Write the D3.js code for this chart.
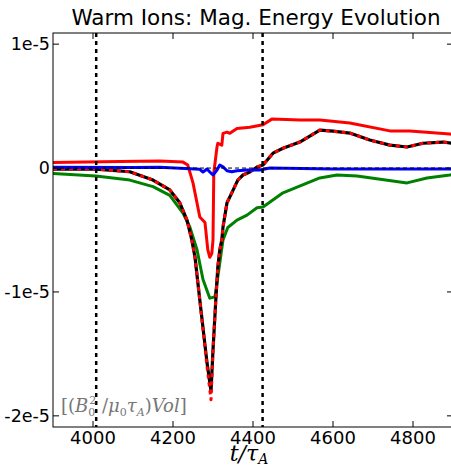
<!DOCTYPE html>
<html>
<head>
<meta charset="utf-8">
<script src="https://cdn.jsdelivr.net/npm/d3@7"></script>
<style>
body{margin:0;background:#fff;}
svg text{font-family:'DejaVu Sans',sans-serif;fill:#000;}
</style>
</head>
<body>
<div id="chart"></div>
<script>
// values are in units of 1e-5
var x_ticks=[4000,4200,4400,4600,4800];
var y_ticks=[1,0,-1,-2];
var y_tick_labels=['1e-5','0','-1e-5','-2e-5'];
var marker_times=[4008,4424];

var red_t=[3900,4067,4167,4225,4237,4250,4267,4280,4287,4292,4297,4300,4302,4310,4312,4322,4325,4335,4342,4360,4392,4425,4447,4517,4567,4642,4742,4792,4892,4900];
var red_v=[0.044,0.052,0.056,0.048,0.024,-0.12,-0.395,-0.44,-0.66,-0.72,-0.69,-0.58,-0.04,0.17,0.2,0.185,0.28,0.29,0.28,0.32,0.33,0.35,0.395,0.387,0.387,0.363,0.3,0.3,0.274,0.27];

var total_t=[3900,4007,4092,4150,4192,4217,4235,4247,4255,4267,4285,4295,4300,4307,4312,4317,4322,4325,4335,4347,4362,4375,4392,4410,4425,4450,4475,4517,4567,4600,4642,4692,4742,4785,4825,4875,4900];
var total_v=[-0.008,-0.008,-0.03,-0.097,-0.177,-0.28,-0.42,-0.58,-0.72,-1.065,-1.57,-1.8,-1.47,-1.065,-0.8,-0.66,-0.58,-0.476,-0.28,-0.2,-0.097,-0.056,-0.032,0.008,0.024,0.12,0.16,0.21,0.306,0.298,0.282,0.226,0.185,0.17,0.2,0.21,0.2];
var sum_v=[-0.008,-0.008,-0.03,-0.097,-0.177,-0.28,-0.42,-0.58,-0.72,-1.065,-1.6,-1.87,-1.47,-1.065,-0.8,-0.66,-0.58,-0.476,-0.28,-0.2,-0.097,-0.056,-0.032,0.008,0.024,0.12,0.16,0.21,0.306,0.298,0.282,0.226,0.185,0.17,0.2,0.21,0.2];

var green_t=[3900,4007,4092,4150,4192,4225,4242,4260,4275,4292,4305,4312,4325,4337,4360,4385,4410,4425,4475,4567,4610,4660,4785,4835,4892,4900];
var green_v=[-0.043,-0.065,-0.097,-0.15,-0.22,-0.363,-0.476,-0.66,-0.9,-1.05,-1.04,-0.88,-0.58,-0.48,-0.42,-0.38,-0.32,-0.315,-0.2,-0.08,-0.056,-0.065,-0.12,-0.08,-0.056,-0.05];

var blue_t=[3900,4100,4167,4267,4275,4285,4292,4300,4310,4317,4325,4335,4347,4360,4385,4417,4442,4600,4900];
var blue_v=[0.006,0.004,0.006,-0.01,-0.032,-0.008,-0.032,-0.056,-0.016,0.024,0.01,-0.022,-0.03,-0.022,-0.016,-0.016,0,-0.008,-0.008];

var W=451,H=468;
var margin={left:53,top:33,right:-2,bottom:41};
var pw=W-margin.left-margin.right, ph=H-margin.top-margin.bottom;

var svg=d3.select('#chart').append('svg').attr('width',W).attr('height',H);
svg.append('defs').append('clipPath').attr('id','clip').append('rect').attr('width',pw).attr('height',ph);
var g=svg.append('g').attr('transform','translate('+margin.left+','+margin.top+')');

var x=d3.scaleLinear().domain([3900,4900]).range([0,pw]);
var y=d3.scaleLinear().domain([-2.09,1.09]).range([ph,0]);

var plot=g.append('g').attr('clip-path','url(#clip)');
function zip(t,v){return t.map(function(d,i){return [d,v[i]];});}
var line=d3.line().x(function(d){return x(d[0]);}).y(function(d){return y(d[1]);});

function draw(t,v,color,dash,width){
    var p=plot.append('path').datum(zip(t,v)).attr('d',line).attr('fill','none')
        .attr('stroke',color).attr('stroke-width',width).attr('stroke-linejoin','round');
    if(dash) p.attr('stroke-dasharray',dash);
    return p;
}
draw(red_t,red_v,'#ff0000',null,3);
draw(green_t,green_v,'#008000',null,3);
draw(total_t,total_v,'#000000',null,3.2);
draw(total_t,sum_v,'#ff0000','4,4',3);
draw(blue_t,blue_v,'#0000ff',null,3);
// zero reference
plot.append('line').attr('x1',0).attr('x2',pw).attr('y1',y(0)).attr('y2',y(0))
    .attr('stroke','#000').attr('stroke-width',1).attr('stroke-dasharray','4,3');
marker_times.forEach(function(t){
    plot.append('line').attr('x1',x(t)).attr('x2',x(t)).attr('y1',0).attr('y2',ph)
        .attr('stroke','#000').attr('stroke-width',2.5).attr('stroke-dasharray','4,4');
});

// frame and inward ticks
g.append('rect').attr('width',pw).attr('height',ph).attr('fill','none').attr('stroke','#000').attr('stroke-width',1);
x_ticks.forEach(function(t){
    g.append('line').attr('x1',x(t)).attr('x2',x(t)).attr('y1',ph).attr('y2',ph-6).attr('stroke','#000');
    g.append('line').attr('x1',x(t)).attr('x2',x(t)).attr('y1',0).attr('y2',6).attr('stroke','#000');
    g.append('text').attr('x',x(t)).attr('y',ph+17).attr('text-anchor','middle').attr('font-size',18).text(t);
});
y_ticks.forEach(function(v,i){
    g.append('line').attr('x1',0).attr('x2',6).attr('y1',y(v)).attr('y2',y(v)).attr('stroke','#000');
    g.append('line').attr('x1',pw).attr('x2',pw-6).attr('y1',y(v)).attr('y2',y(v)).attr('stroke','#000');
    g.append('text').attr('x',-3).attr('y',y(v)).attr('dy','0.36em').attr('text-anchor','end').attr('font-size',17.5).text(y_tick_labels[i]);
});

svg.append('text').attr('x',256).attr('y',25).attr('text-anchor','middle').attr('font-size',21.5).text('Warm Ions: Mag. Energy Evolution');

// x label t/tau_A
var xl=svg.append('text').attr('x',249).attr('y',461).attr('text-anchor','middle')
    .style('font-family',"'DejaVu Serif',serif").style('font-style','italic').attr('font-size',22);
xl.append('tspan').text('t/τ');
xl.append('tspan').attr('font-size',14).attr('dy',3).text('A');

// units label
var ul=svg.append('text').attr('x',61).attr('y',412).style('fill','#777')
    .style('font-family',"'DejaVu Serif',serif").attr('font-size',18);
ul.append('tspan').text('[(');
ul.append('tspan').style('font-style','italic').text('B');
ul.append('tspan').attr('font-size',11).attr('dy',4).text('0');
ul.append('tspan').attr('font-size',11).attr('dx',-6).attr('dy',-12).text('2');
ul.append('tspan').attr('dy',8).text(' /');
ul.append('tspan').style('font-style','italic').text('μ');
ul.append('tspan').attr('font-size',11).attr('dy',4).text('0');
ul.append('tspan').attr('dy',-4).style('font-style','italic').text('τ');
ul.append('tspan').attr('font-size',11).attr('dy',4).style('font-style','italic').text('A');
ul.append('tspan').attr('dy',-4).text(')');
ul.append('tspan').style('font-style','italic').text('Vol');
ul.append('tspan').text(']');
</script>
</body>
</html>
